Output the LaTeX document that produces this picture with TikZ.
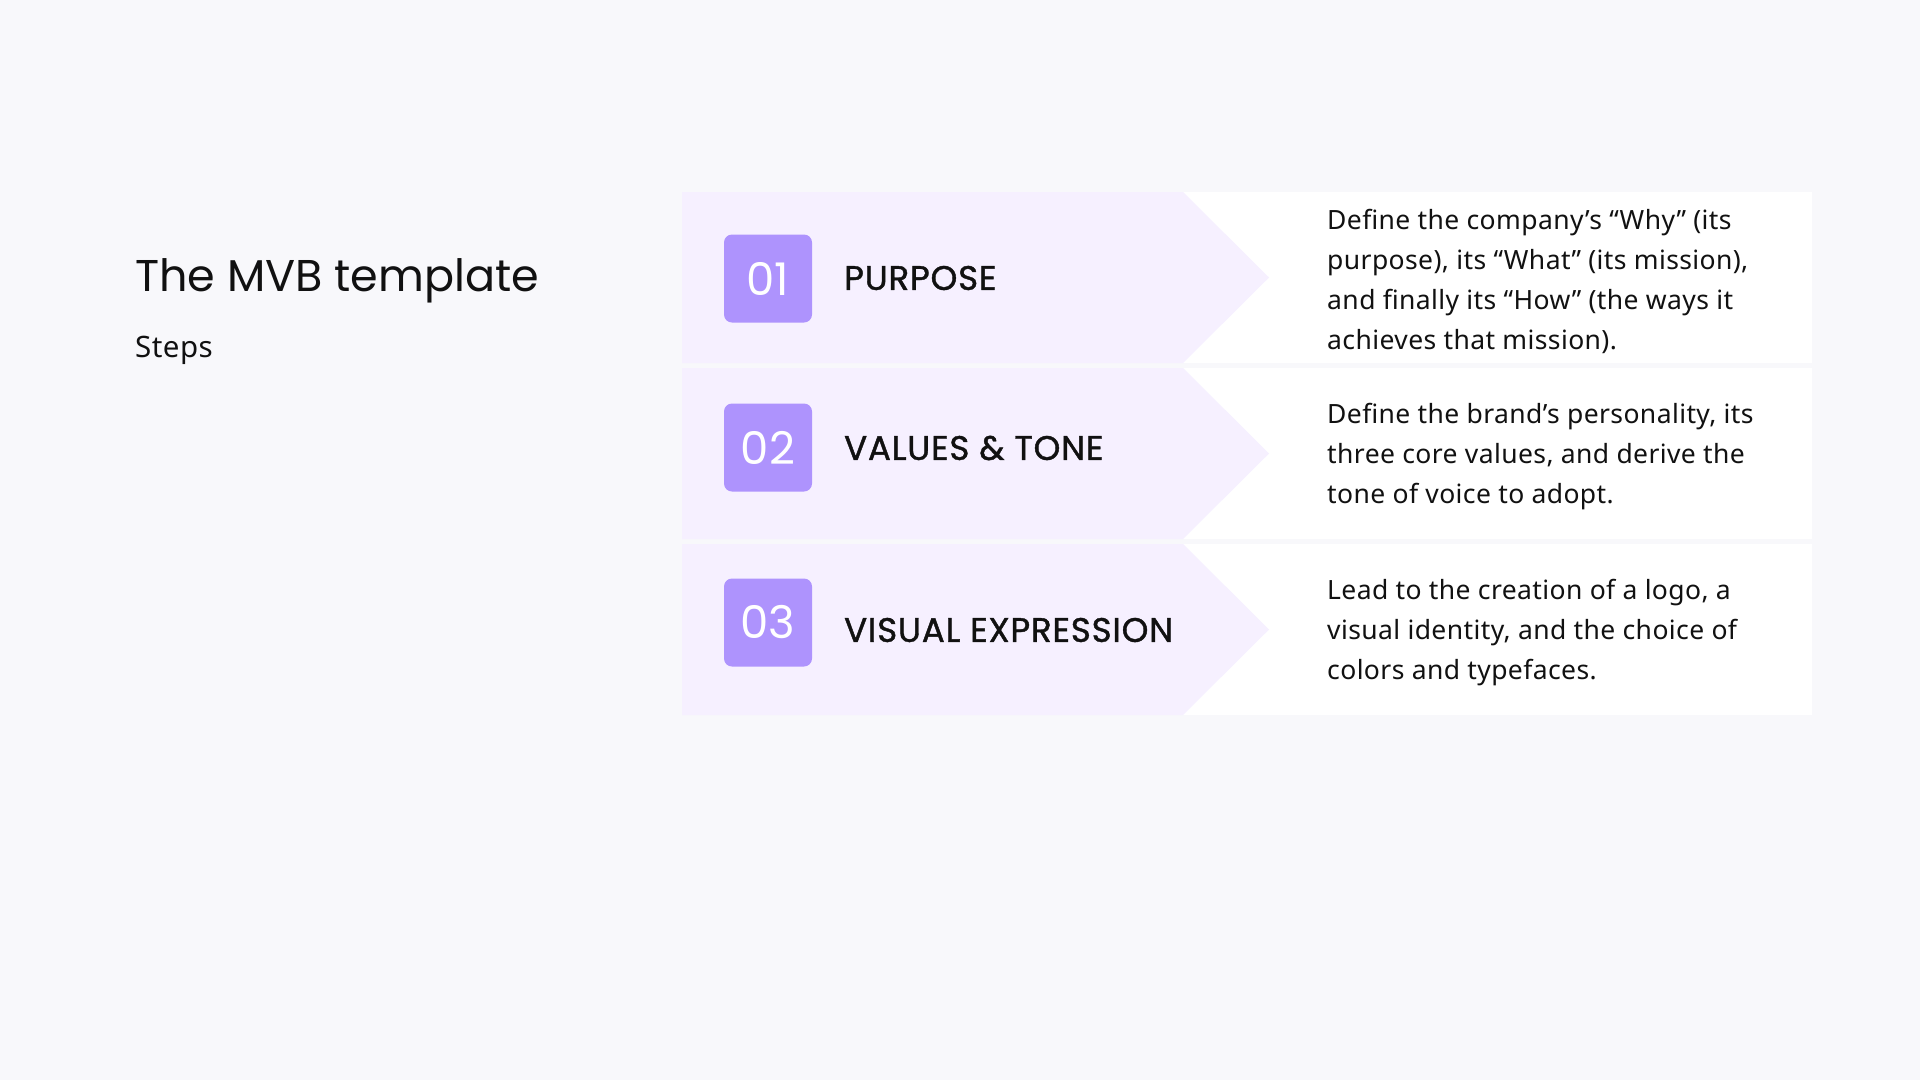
\documentclass[tikz,border=0pt]{standalone}
\usepackage{fontspec}
\setmainfont{Noto Sans}
\newfontfamily\headfont{Poppins}
\newfontfamily\stepfont{Poppins}[FakeBold=1.2,LetterSpace=2.5]
\newfontfamily\bodyfont{Noto Sans}[LetterSpace=1.5]
\definecolor{bgc}{HTML}{F8F8FB}
\definecolor{lav}{HTML}{F6F0FF}
\definecolor{badgec}{HTML}{AE93FD}
\definecolor{inkc}{HTML}{111111}
\tikzset{
  rowwhite/.style={fill=white},
  rowlav/.style={fill=lav},
  badgebox/.style={fill=badgec, rounded corners=8pt, minimum width=88pt, minimum height=88pt, inner sep=0pt, text=white, font=\headfont\fontsize{45}{45}\selectfont},
  heading/.style={anchor=west, inner sep=0pt, text=inkc, font=\stepfont\fontsize{34}{34}\selectfont},
  desc/.style={anchor=west, align=left, inner sep=0pt, text=inkc, font=\bodyfont\fontsize{26.5}{40}\selectfont},
}
\begin{document}
\begin{tikzpicture}[x=1pt,y=-1pt]
\fill[bgc] (0,0) rectangle (1920,1080);
\useasboundingbox (0,0) rectangle (1920,1080);

% title
\node[anchor=base west, inner sep=0pt, text=inkc, font=\headfont\fontsize{44.5}{44.5}\selectfont] (title) at (135,291) {The MVB template};
\node[anchor=base west, inner sep=0pt, text=inkc, font=\bodyfont\fontsize{29.5}{29.5}\selectfont] (steps) at (135,357) {Steps};

% row 1
\fill[rowwhite] (1183,192) rectangle (1812,363);
\fill[rowlav] (682,192) -- (1183,192) -- (1269,277.5) -- (1183,363) -- (682,363) -- cycle;
\node[badgebox] (b1) at (768,278.5) {01};
\node[heading] (h1) at (844,278) {PURPOSE};
\node[desc] (d1) at (1327,281) {Define the company’s “Why” (its\\purpose), its “What” (its mission),\\and finally its “How” (the ways it\\achieves that mission).};

% row 2
\fill[rowwhite] (1183,368) rectangle (1812,539);
\fill[rowlav] (682,368) -- (1183,368) -- (1269,453.5) -- (1183,539) -- (682,539) -- cycle;
\node[badgebox] (b2) at (768,447.5) {02};
\node[heading] (h2) at (844,448) {VALUES \& TONE};
\node[desc] (d2) at (1327,457) {Define the brand’s personality, its\\three core values, and derive the\\tone of voice to adopt.};

% row 3
\fill[rowwhite] (1183,544) rectangle (1812,715);
\fill[rowlav] (682,544) -- (1183,544) -- (1269,629.5) -- (1183,715) -- (682,715) -- cycle;
\node[badgebox] (b3) at (768,622.5) {03};
\node[heading] (h3) at (844,630) {VISUAL EXPRESSION};
\node[desc] (d3) at (1327,633) {Lead to the creation of a logo, a\\visual identity, and the choice of\\colors and typefaces.};
\end{tikzpicture}
\end{document}
